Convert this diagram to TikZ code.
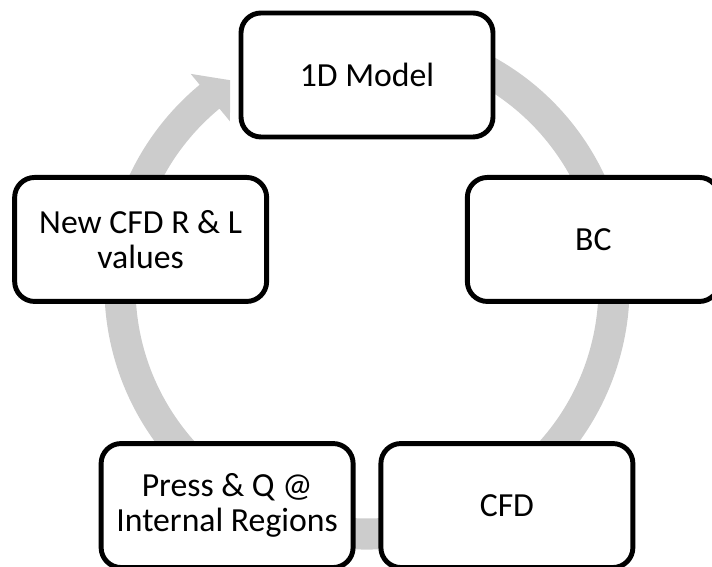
\documentclass[tikz,border=0pt]{standalone}
\usepackage{fontspec}
\setmainfont{Carlito}
\usetikzlibrary{calc}
\definecolor{ringgray}{RGB}{204,204,204}
\tikzset{
  stagebox/.style={
    draw=black,
    fill=white,
    line width=3.5pt,
    rounded corners=0.5cm,
    align=center,
    minimum width=6.3cm,
    minimum height=3.1cm,
    inner sep=2pt,
    font=\fontsize{24}{25}\selectfont
  },
  ringfill/.style={fill=ringgray,draw=none}
}

\begin{document}
\begin{tikzpicture}
        \useasboundingbox (0,0) rectangle (17.8,14.175);
        \coordinate (mid) at (9.175,6.35);
        \coordinate (ringc) at (9.175,7.0);

        % ring arrow behind the boxes
        \fill[ringfill] ($(ringc)+(70:6.5625)$)
          arc[start angle=70,end angle=-230.4,radius=6.5625]
          -- ($(ringc)+(129.6:6.915)$)
          -- ($(ringc)+(123.5:6.2)$)
          -- ($(ringc)+(129.6:5.375)$)
          -- ($(ringc)+(129.6:5.7875)$)
          arc[start angle=-230.4,end angle=70,radius=5.7875]
          -- cycle;

        \node[stagebox] (model) at ($(mid)+(90:5.95)$) {1D Model};
        \node[stagebox] (bc) at ($(mid)+(18:5.95)$) {BC};
        \node[stagebox] (cfd) at ($(mid)+(-54:5.95)$) {CFD};
        \node[stagebox] (press) at ($(mid)+(-126:5.95)$) {Press \& Q @\\Internal Regions};
        \node[stagebox] (newcfd) at ($(mid)+(162:5.95)$) {New CFD R \& L\\values};
      \end{tikzpicture}
\end{document}
